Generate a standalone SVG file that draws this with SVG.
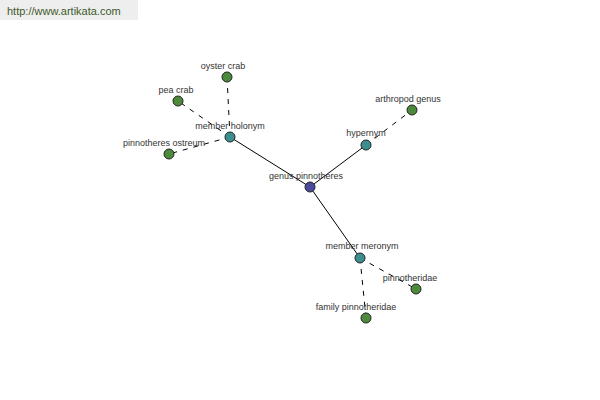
<svg xmlns="http://www.w3.org/2000/svg" width="600" height="400" viewBox="0 0 600 400">
<style>
text{font-family:"Liberation Sans",Arial,sans-serif;font-size:9px;fill:#333;text-anchor:middle}
.solid{stroke:#000;stroke-width:1;fill:none}
.dash{stroke:#000;stroke-width:1;fill:none;stroke-dasharray:5,6}
.root{fill:#4a4a9e;stroke:#222;stroke-width:1}
.hub{fill:#3d8f8f;stroke:#222;stroke-width:1}
.leaf{fill:#4c8a3c;stroke:#222;stroke-width:1}
</style>
<rect width="600" height="400" fill="#fff"/>
<rect x="0" y="0" width="138" height="20" fill="#eeeeee"/>
<text x="7" y="15" style="text-anchor:start;font-size:11px;fill:#3d5a2a">http://www.artikata.com</text>
<g id="connectors">
<line class="solid" x1="310" y1="187" x2="366" y2="145"/>
<line class="solid" x1="310" y1="187" x2="230" y2="137"/>
<line class="solid" x1="310" y1="187" x2="360" y2="258"/>
<line class="dash" x1="366" y1="145" x2="412" y2="110"/>
<line class="dash" x1="230" y1="137" x2="227" y2="77"/>
<line class="dash" x1="230" y1="137" x2="178" y2="101"/>
<line class="dash" x1="230" y1="137" x2="169" y2="154"/>
<line class="dash" x1="360" y1="258" x2="416" y2="289"/>
<line class="dash" x1="360" y1="258" x2="366" y2="318"/>
</g>
<g id="genus-pinnotheres"><circle class="root" cx="310" cy="187" r="5"/><text x="306" y="179">genus pinnotheres</text></g>
<g id="hypernym"><circle class="hub" cx="366" cy="145" r="5"/><text x="366" y="136">hypernym</text></g>
<g id="arthropod-genus"><circle class="leaf" cx="412" cy="110" r="5"/><text x="408" y="102">arthropod genus</text></g>
<g id="member-holonym"><circle class="hub" cx="230" cy="137" r="5"/><text x="230" y="129">member holonym</text></g>
<g id="oyster-crab"><circle class="leaf" cx="227" cy="77" r="5"/><text x="223" y="69">oyster crab</text></g>
<g id="pea-crab"><circle class="leaf" cx="178" cy="101" r="5"/><text x="176" y="93">pea crab</text></g>
<g id="pinnotheres-ostreum"><circle class="leaf" cx="169" cy="154" r="5"/><text x="164" y="146">pinnotheres ostreum</text></g>
<g id="member-meronym"><circle class="hub" cx="360" cy="258" r="5"/><text x="362" y="249">member meronym</text></g>
<g id="pinnotheridae"><circle class="leaf" cx="416" cy="289" r="5"/><text x="410" y="281">pinnotheridae</text></g>
<g id="family-pinnotheridae"><circle class="leaf" cx="366" cy="318" r="5"/><text x="356" y="310">family pinnotheridae</text></g>
</svg>
